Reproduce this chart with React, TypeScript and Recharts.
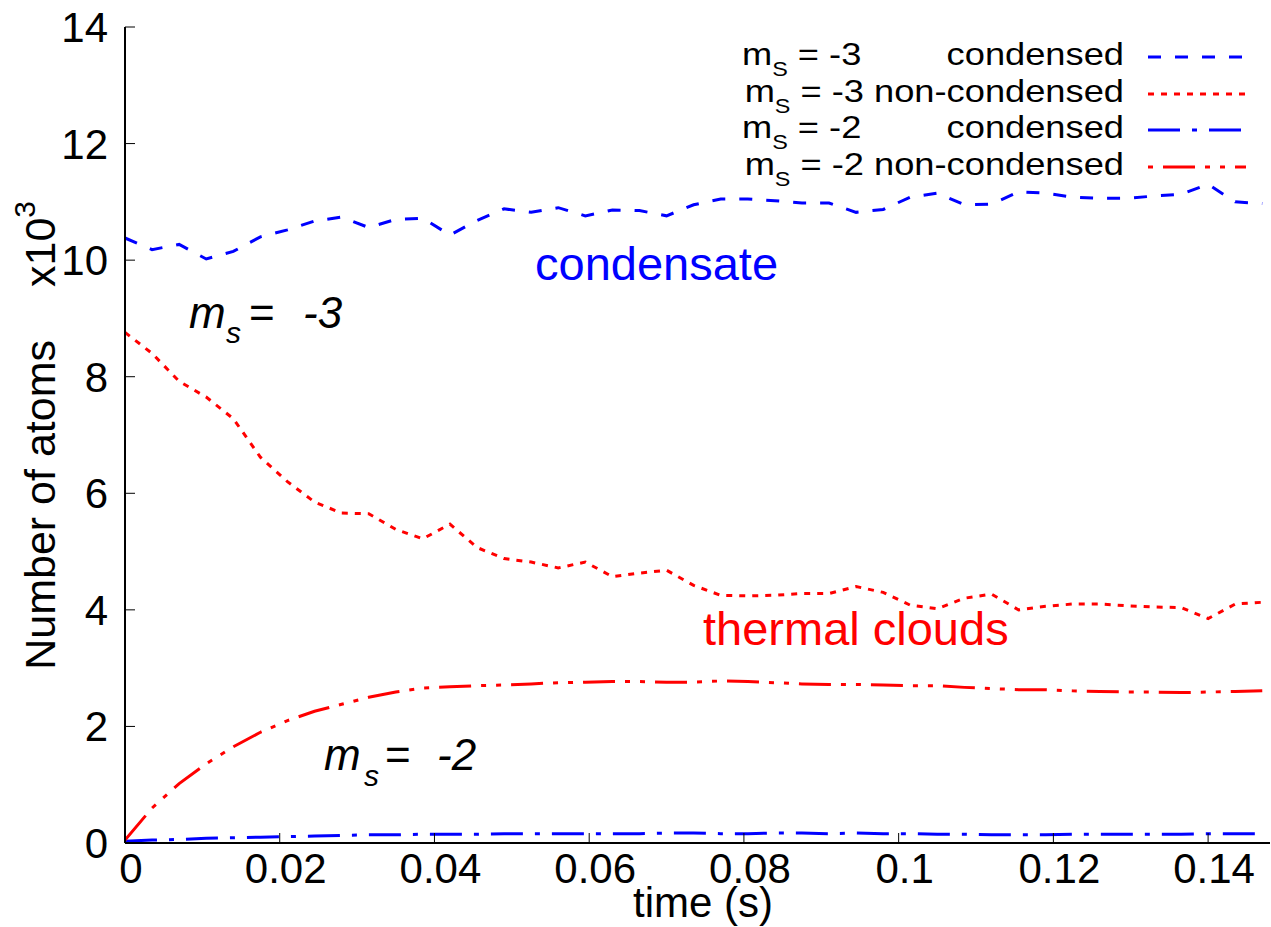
import React from 'react';
import { LineChart, Line, XAxis, YAxis, Customized } from 'recharts';

document.body.style.margin = '0';

const FONT = "'Liberation Sans', Arial, Helvetica, sans-serif";

// time (s)
const time = [
  0, 0.0035, 0.007, 0.0105, 0.014, 0.0175, 0.021, 0.0245, 0.028, 0.0315,
  0.035, 0.0385, 0.042, 0.0455, 0.049, 0.0525, 0.056, 0.0595, 0.063, 0.0665,
  0.07, 0.0735, 0.077, 0.0805, 0.084, 0.0875, 0.091, 0.0945, 0.098, 0.1015,
  0.105, 0.1085, 0.112, 0.1155, 0.119, 0.1225, 0.126, 0.1295, 0.133, 0.1365,
  0.14, 0.1435, 0.147,
];

// number of atoms, x10^3
const condensedM3 = [
  10.38, 10.18, 10.27, 10.02, 10.15, 10.4, 10.52, 10.67, 10.74, 10.56,
  10.7, 10.72, 10.43, 10.68, 10.88, 10.82, 10.9, 10.76, 10.86, 10.85,
  10.76, 10.95, 11.05, 11.05, 11.02, 10.98, 10.98, 10.82, 10.87, 11.08,
  11.15, 10.95, 10.96, 11.17, 11.15, 11.08, 11.06, 11.06, 11.1, 11.13,
  11.3, 11.0, 10.97,
];
const thermalM3 = [
  8.76, 8.4, 7.92, 7.65, 7.28, 6.62, 6.2, 5.85, 5.66, 5.65,
  5.38, 5.22, 5.47, 5.07, 4.88, 4.82, 4.72, 4.82, 4.57, 4.63,
  4.68, 4.42, 4.25, 4.24, 4.25, 4.28, 4.28, 4.4, 4.3, 4.08,
  4.02, 4.2, 4.27, 4.0, 4.06, 4.1, 4.1, 4.07, 4.05, 4.04,
  3.85, 4.1, 4.13,
];
const condensedM2 = [
  0.03, 0.05, 0.06, 0.08, 0.09, 0.1, 0.11, 0.12, 0.13, 0.14,
  0.14, 0.15, 0.15, 0.15, 0.16, 0.16, 0.16, 0.16, 0.16, 0.16,
  0.17, 0.17, 0.16, 0.16, 0.17, 0.17, 0.16, 0.17, 0.16, 0.16,
  0.15, 0.15, 0.14, 0.14, 0.14, 0.15, 0.15, 0.15, 0.15, 0.15,
  0.16, 0.16, 0.16,
];
const thermalM2 = [
  0.05, 0.6, 1.02, 1.36, 1.65, 1.9, 2.1, 2.26, 2.38, 2.5,
  2.59, 2.66, 2.68, 2.7, 2.71, 2.73, 2.75, 2.76, 2.77, 2.77,
  2.76, 2.76, 2.78, 2.77, 2.75, 2.73, 2.72, 2.72, 2.71, 2.7,
  2.7, 2.67, 2.65, 2.63, 2.63, 2.61, 2.6, 2.59, 2.59, 2.58,
  2.59, 2.6, 2.61,
];

const xTicks = [0, 0.02, 0.04, 0.06, 0.08, 0.1, 0.12, 0.14];
const yTicks = [0, 2, 4, 6, 8, 10, 12, 14];

const legendNames = ['-3', '-3', '-2', '-2'];
const legendStates = ['condensed', 'non-condensed', 'condensed', 'non-condensed'];

const data = time.map((t, i) => ({
  t,
  c3: condensedM3[i],
  n3: thermalM3[i],
  c2: condensedM2[i],
  n2: thermalM2[i],
}));

const styles = [
  { key: 'c3', color: '#0000ff', dash: '13 14', keyOffset: 0 },
  { key: 'n3', color: '#ff0000', dash: '6 7', keyOffset: 0 },
  { key: 'c2', color: '#0000ff', dash: '32 12 5 12', keyOffset: 0 },
  { key: 'n2', color: '#ff0000', dash: '32 10 5 10 5 10', keyOffset: 57 },
];

const fmt = (v: number) => String(Number(v.toFixed(3)));

const XTick = (props: any) => {
  const { x, y, payload } = props;
  return (
    <g>
      <line x1={x} y1={y} x2={x} y2={y - 10} stroke="#000" strokeWidth={1} />
      <text x={x + 6} y={y + 40} textAnchor="middle" fontSize={42} fontFamily={FONT} fill="#000">
        {fmt(payload.value)}
      </text>
    </g>
  );
};

const TopTick = (props: any) => {
  const { x, y } = props;
  return <line x1={x} y1={y} x2={x} y2={y + 10} stroke="#000" strokeWidth={1} />;
};

const YTick = (props: any) => {
  const { x, y, payload } = props;
  return (
    <g>
      <line x1={x} y1={y} x2={x + 10} y2={y} stroke="#000" strokeWidth={1} />
      <text x={x - 17} y={y + 15} textAnchor="end" fontSize={42} fontFamily={FONT} fill="#000">
        {payload.value}
      </text>
    </g>
  );
};

// key text is a little wider than tall in the original, so stretch it about its right edge
const KEY_RIGHT = 1124;
const KEY_STRETCH = 1.17;
const KEY_LEFT = KEY_RIGHT + (742 - KEY_RIGHT) / KEY_STRETCH;

const Annotations = () => {
  const rowBase = [65, 102, 138, 175];
  return (
    <g fontFamily={FONT}>
      {/* key */}
      {styles.map((s, i) => {
        const long = legendStates[i] !== 'condensed';
        return (
          <g key={s.key}>
            <g transform={`translate(${KEY_RIGHT} 0) scale(${KEY_STRETCH} 1) translate(${-KEY_RIGHT} 0)`}>
              {long ? (
                <text x={KEY_RIGHT} y={rowBase[i]} fontSize={31} fill="#000" textAnchor="end">
                  m<tspan fontSize={20} dy={11}>S</tspan>
                  <tspan dy={-11}>{` = ${legendNames[i]} ${legendStates[i]}`}</tspan>
                </text>
              ) : (
                <text x={KEY_LEFT} y={rowBase[i]} fontSize={31} fill="#000">
                  m<tspan fontSize={20} dy={11}>S</tspan>
                  <tspan dy={-11}>{` = ${legendNames[i]}`}</tspan>
                  <tspan x={KEY_RIGHT} y={rowBase[i]} textAnchor="end">{legendStates[i]}</tspan>
                </text>
              )}
            </g>
            <line
              x1={1148}
              x2={1246}
              y1={rowBase[i] - 8}
              y2={rowBase[i] - 8}
              stroke={s.color}
              strokeWidth={3}
              strokeDasharray={s.dash}
              strokeDashoffset={s.keyOffset}
            />
          </g>
        );
      })}

      {/* axis titles */}
      <text transform="translate(55,340) rotate(-90)" textAnchor="end" fontSize={43} fill="#000">
        Number of atoms
      </text>
      <text transform="translate(55,287) rotate(-90)" fontSize={43} fill="#000">
        x10<tspan fontSize={30} dy={-20}>3</tspan>
      </text>
      <text x={703} y={917} textAnchor="middle" fontSize={42} fill="#000">
        time (s)
      </text>

      {/* labels inside plot */}
      <text x={535} y={280} fontSize={47} fill="#0000ff">condensate</text>
      <text x={703} y={645} fontSize={47} fill="#ff0000">thermal clouds</text>

      <text y={328} fontSize={44} fill="#000">
        <tspan x={189} fontStyle="italic">m</tspan>
        <tspan x={226} y={343} fontSize={30} fontStyle="italic">s</tspan>
        <tspan x={249} y={328}>=</tspan>
        <tspan x={303} fontStyle="italic">-3</tspan>
      </text>
      <text y={770} fontSize={44} fill="#000">
        <tspan x={324} fontStyle="italic">m</tspan>
        <tspan x={364} y={786} fontSize={30} fontStyle="italic">s</tspan>
        <tspan x={385} y={770}>=</tspan>
        <tspan x={437} fontStyle="italic">-2</tspan>
      </text>
    </g>
  );
};

export default function App() {
  return (
    <div style={{ width: 1271, height: 927, background: '#fff' }}>
      <LineChart width={1271} height={927} data={data} margin={{ top: 27, right: 1, bottom: 0, left: 0 }}>
        <XAxis
          dataKey="t"
          type="number"
          domain={[0, 0.148]}
          ticks={xTicks}
          allowDataOverflow
          height={84}
          tickSize={0}
          tickMargin={0}
          tickLine={false}
          axisLine={{ stroke: '#000', strokeWidth: 2 }}
          tick={<XTick />}
          interval={0}
        />
        <XAxis
          xAxisId="top"
          orientation="top"
          type="number"
          domain={[0, 0.148]}
          ticks={xTicks}
          allowDataOverflow
          height={0}
          tickSize={0}
          tickMargin={0}
          tickLine={false}
          axisLine={{ stroke: '#000', strokeWidth: 2 }}
          tick={<TopTick />}
          interval={0}
        />
        <YAxis
          type="number"
          domain={[0, 14]}
          ticks={yTicks}
          width={125}
          tickSize={0}
          tickMargin={0}
          tickLine={false}
          axisLine={{ stroke: '#000', strokeWidth: 2 }}
          tick={<YTick />}
          interval={0}
        />
        {styles.map(s => (
          <Line
            key={s.key}
            dataKey={s.key}
            type="linear"
            stroke={s.color}
            strokeWidth={3}
            strokeDasharray={s.dash}
            dot={false}
            activeDot={false}
            isAnimationActive={false}
          />
        ))}
        <Customized component={Annotations} />
      </LineChart>
    </div>
  );
}
